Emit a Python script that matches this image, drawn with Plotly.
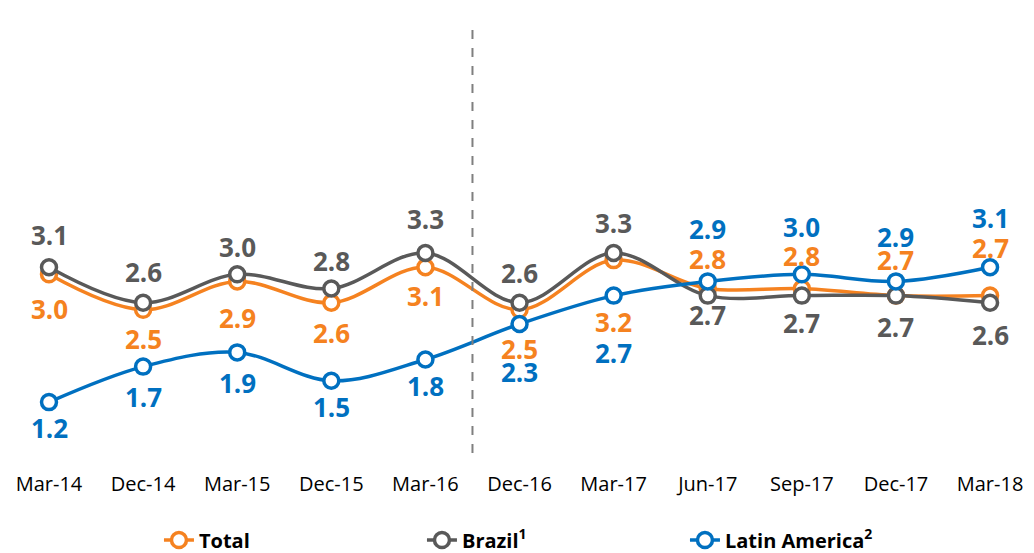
import plotly.graph_objects as go

categories = ["Mar-14", "Dec-14", "Mar-15", "Dec-15", "Mar-16", "Dec-16",
              "Mar-17", "Jun-17", "Sep-17", "Dec-17", "Mar-18"]
total = [3.0, 2.5, 2.9, 2.6, 3.1, 2.5, 3.2, 2.8, 2.8, 2.7, 2.7]
brazil = [3.1, 2.6, 3.0, 2.8, 3.3, 2.6, 3.3, 2.7, 2.7, 2.7, 2.6]
latam = [1.2, 1.7, 1.9, 1.5, 1.8, 2.3, 2.7, 2.9, 3.0, 2.9, 3.1]
series_names = ["Total", "Brazil<sup>1</sup>", "Latin America<sup>2</sup>"]

# label offsets in pixels (style only)
shift_total = [-35, -29, -37, -30, -29, -39, -62, 30, 33, 36, 48]
shift_brazil = [32, 31, 27, 28, 34, 30, 30, -19, -27, -31, -32]
shift_latam = [-26, -30, -31, -26, -26, -48, -57, 52, 47, 44, 49]

colors = ["#F58220", "#595959", "#0070C0"]
FONT = "Open Sans"

fig = go.Figure()
annotations = []
for name, vals, shifts, col in zip(series_names, [total, brazil, latam],
                                   [shift_total, shift_brazil, shift_latam], colors):
    fig.add_trace(go.Scatter(
        x=categories, y=vals, name=name, mode="lines+markers",
        line=dict(color=col, width=3.5, shape="spline", smoothing=1),
        marker=dict(symbol="circle", size=15, color="white",
                    line=dict(color=col, width=3.5)),
        hoverinfo="skip",
    ))
    for c, v, s in zip(categories, vals, shifts):
        annotations.append(dict(
            x=c, y=v, xref="x", yref="y", text=f"<b>{v:.1f}</b>",
            showarrow=False, yshift=s, yanchor="middle", xanchor="center",
            font=dict(family=FONT, size=26, color=col),
        ))

fig.add_shape(type="line", xref="x", yref="paper", x0=4.5, x1=4.5, y0=0, y1=1,
              line=dict(color="#7F7F7F", width=2, dash="dash"))

fig.update_layout(
    width=1034, height=553,
    margin=dict(l=0, r=0, t=14, b=108, autoexpand=False),
    paper_bgcolor="white", plot_bgcolor="white",
    annotations=annotations,
    showlegend=True,
    legend=dict(orientation="h", x=0.146, xanchor="left", y=-0.202, yanchor="middle",
                font=dict(family=FONT, size=20, color="#000000", weight="bold"),
                entrywidth=218, entrywidthmode="pixels", itemwidth=30,
                bgcolor="rgba(0,0,0,0)"),
    xaxis=dict(type="category", range=[-0.4357, 10.552], showgrid=False, zeroline=False,
               showline=False, ticks="", ticklabelstandoff=17, automargin=False,
               tickfont=dict(family=FONT, size=20, color="#000000")),
    yaxis=dict(range=[0.483, 6.554], visible=False, showgrid=False, zeroline=False,
               automargin=False),
)

fig.write_html("out.html")
